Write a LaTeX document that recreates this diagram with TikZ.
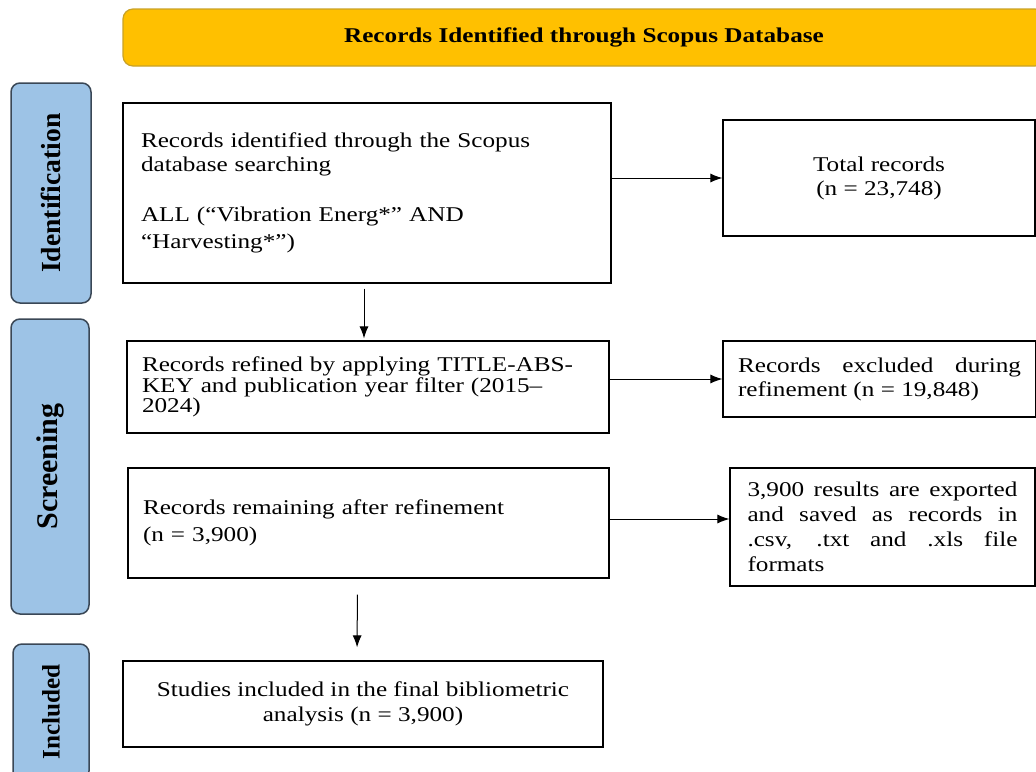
\documentclass[tikz,border=0pt]{standalone}
\usepackage{fontspec}
\setmainfont[FakeStretch=1.2]{Liberation Serif}
\usepackage{tikz}
\usetikzlibrary{arrows.meta}

\definecolor{bannergold}{HTML}{FFC000}
\definecolor{bannerline}{HTML}{C9A227}
\definecolor{stageblue}{HTML}{9DC3E6}
\definecolor{stageline}{HTML}{3A4756}

\newcommand{\stagetext}[1]{\scalebox{1.2}[1]{\rotatebox{90}{#1}}}

\begin{document}
\begin{tikzpicture}[x=1pt, y=-1pt,
		rec/.style={draw, line width=1.2pt, inner sep=0pt, font=\fontsize{21}{24}\selectfont},
		stage/.style={draw=stageline, fill=stageblue, line width=1.5pt, rounded corners=9pt, inner sep=0pt,
			font=\fontsize{23}{26}\selectfont\bfseries},
		arr/.style={-{Latex[length=12pt, width=9pt]}, line width=1pt}]
		\useasboundingbox (0,0) rectangle (1036,771);
		\clip (0,0) rectangle (1036,771);
		
		% banner
		\node[draw=bannerline, fill=bannergold, line width=1.2pt, rounded corners=10pt,
			minimum width=922pt, minimum height=57pt, font=\fontsize{21}{24}\selectfont\bfseries]
			(banner) at (584,37.5) {Records Identified through Scopus Database};
		
		% stages
		\node[stage, minimum width=80pt, minimum height=220pt] (idlabel) at (51,193)
			{\stagetext{Identification}};
		\node[stage, minimum width=78pt, minimum height=295pt, font=\fontsize{25}{28}\selectfont\bfseries]
			(scrlabel) at (50,466.5) {\stagetext{Screening}};
		\node[stage, minimum width=76pt, minimum height=136pt, font=\fontsize{21}{24}\selectfont\bfseries]
			(inclabel) at (51,712) {\stagetext{Included}};
		
		% boxes
		\node[rec, minimum width=488pt, minimum height=180pt, text width=452pt, align=left]
			(identified) at (367,193)
			{Records identified through the Scopus\\ database searching\\[26pt]
			ALL (“Vibration Energ*” AND\\[3pt] “Harvesting*”)};
		\node[rec, minimum width=312pt, minimum height=116pt, align=center]
			(total) at (879,178) {Total records\\ (n = 23,748)};
		\node[rec, minimum width=482pt, minimum height=92pt, text width=452pt, align=left,
			font=\fontsize{21}{18}\selectfont]
			(refined) at (368,387)
			{Records refined by applying TITLE-ABS-\\ KEY and publication year filter (2015–\\ 2024)};
		\node[rec, minimum width=313pt, minimum height=76pt, text width=283pt, align=justify]
			(excluded) at (879.5,379)
			{Records excluded during\linebreak refinement (n = 19,848)};
		\node[rec, minimum width=481pt, minimum height=110pt, text width=451pt, align=left,
			font=\fontsize{21}{27}\selectfont]
			(remaining) at (368.5,523)
			{Records remaining after refinement\\ (n = 3,900)};
		\node[rec, minimum width=305pt, minimum height=118pt, text width=270pt, align=justify,
			font=\fontsize{21}{25}\selectfont]
			(exported) at (882.5,527)
			{3,900 results are exported\linebreak and saved as records in\linebreak
			.csv, .txt and .xls file\linebreak formats};
		\node[rec, minimum width=480pt, minimum height=86pt, align=center,
			font=\fontsize{21}{25}\selectfont]
			(final) at (363,704)
			{Studies included in the final bibliometric\\ analysis (n = 3,900)};
		
		% arrows
		\draw[arr] (identified.east |- total) -- (total);
		\draw[arr, shorten <=5pt, shorten >=2pt] ([xshift=-3pt]identified.south) -- ([xshift=-4pt]refined.north);
		\draw[arr] (refined.east |- excluded) -- (excluded);
		\draw[arr] ([yshift=4pt]remaining.east) -- ([yshift=8pt]exported.west);
		\draw[arr, shorten <=16pt, shorten >=13pt] ([xshift=-11pt]remaining.south) -- ([xshift=-6pt]final.north);
		
		\end{tikzpicture}
\end{document}
